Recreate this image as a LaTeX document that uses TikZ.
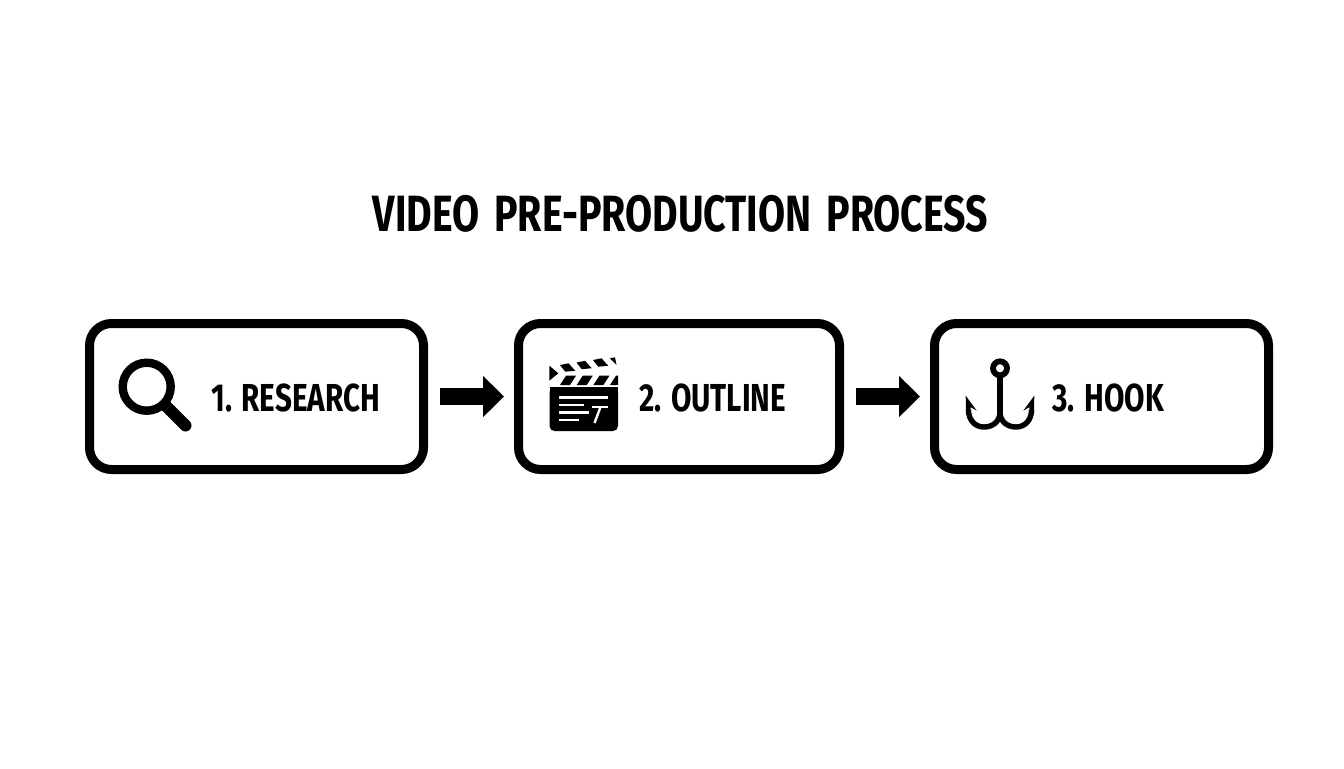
\documentclass[tikz,border=0pt]{standalone}
\usepackage{fontspec}
\setmainfont{Fira Sans}[FakeStretch=0.76]
\newfontfamily\titlefont{Fira Sans}[FakeStretch=0.77, WordSpace=1.6]
\usetikzlibrary{arrows.meta}

\begin{document}
\begin{tikzpicture}[
    x=0.5pt, y=-0.5pt,
    stepbox/.style={draw, rounded corners=11pt, line width=4.5pt, minimum height=73pt,
                 minimum width=167pt},
    steplabel/.style={font=\fontsize{19.5}{22}\selectfont\bfseries, inner sep=0pt, anchor=west},
    arrow/.style={-{Triangle[length=10.5pt, width=20pt]}, line width=8.5pt, yshift=-0.5pt,
                 shorten <=6pt, shorten >=5pt},
    iconline/.style={line width=2.7pt},
    clapline/.style={white, line width=1.2pt},
  ]
    \useasboundingbox (0,0) rectangle (1344,768);

    % Title
    \node[font=\titlefont\fontsize{25.5}{30}\selectfont\bfseries, inner sep=0pt] (title) at (680.5,214)
      {VIDEO PRE-PRODUCTION PROCESS};

    % Boxes
    \node[stepbox] (research) at (256.5,396.5) {};
    \node[stepbox, minimum width=160.5pt] (outline) at (679,396.5) {};
    \node[stepbox] (hook) at (1101.5,396.5) {};

    % Labels
    \node[steplabel] (researchlabel) at (211,397.5) {1. RESEARCH};
    \node[steplabel] (outlinelabel) at (639,397.5) {2. OUTLINE};
    \node[steplabel] (hooklabel) at (1052,397.5) {3. HOOK};

    % Arrows
    \draw[arrow] (research) -- (outline);
    \draw[arrow] (outline) -- (hook);

    % Magnifier
    \draw[line width=4.2pt] (146.7,386.7) circle (24);
    \draw[line width=6pt, line cap=round] (166,406) -- (185.5,425.5);

    % Clapper board
    \fill[rounded corners=2.5pt] (549.5,387) -- (618,387) -- (618,431) -- (549.5,431) -- cycle;
    \fill (549.5,387) rectangle (618,395);
    \draw[clapline] (559.3,397.3) -- (607.7,397.3);
    \draw[clapline] (559.3,405) -- (584,405);
    \draw[clapline] (559.3,412.3) -- (589,412.3);
    \draw[clapline] (559.3,420) -- (579,420);
    \draw[clapline] (592,406.7) -- (608,406.7);
    \draw[clapline] (600.5,407) -- (594.5,423);
    \foreach \x in {560,576.7,593.4}
      \fill (\x,385) -- ++(10,0) -- ++(6,-9.3) -- ++(-10,0) -- cycle;
    \fill (610,385) -- (618,385) -- (618,375.7) -- (616,375.7) -- cycle;
    \foreach \i in {0,1,2}
      \fill (560+16.5*\i,365-2.5*\i) -- ++(8.5,-1.7) -- ++(6.7,7.4) -- ++(-10,1) -- cycle;
    \fill (610,358.3) -- (615,357.3) -- (616.5,365) -- cycle;
    \fill (549.3,365.7) -- (558.3,373.3) -- (549.3,380.7) -- cycle;

    % Hook
    \draw[line width=2.9pt] (1000,368.3) circle (7);
    \draw[iconline] (1000,376) -- (1000,412);
    \draw[iconline] (1000,412) .. controls (1000,422) and (992,427) .. (984,427)
      .. controls (975,427) and (968.5,420) .. (968.5,410);
    \draw[iconline] (1000,412) .. controls (1000,422) and (1008,427) .. (1016,427)
      .. controls (1025,427) and (1031.5,420) .. (1031.5,410);
    \fill (965.7,395.7) -- (976.7,410.7) -- (970.5,407) -- (971,414) -- (966,412) -- cycle;
    \fill (1034.3,395.7) -- (1023.3,410.7) -- (1029.5,407) -- (1029,414) -- (1034,412) -- cycle;
  \end{tikzpicture}
\end{document}
